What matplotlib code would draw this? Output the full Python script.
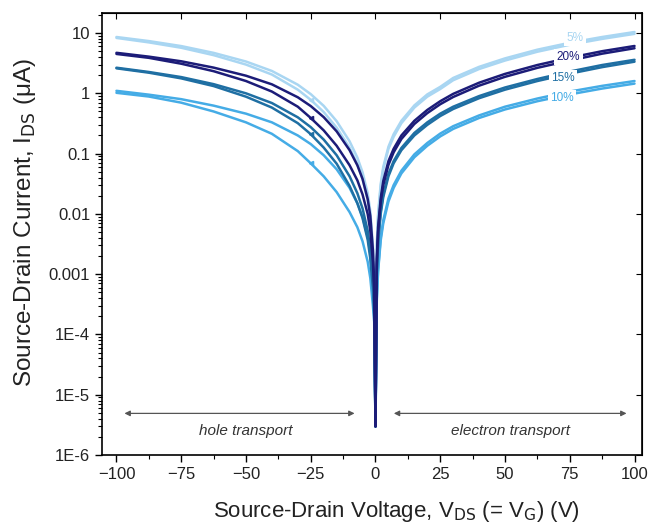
import matplotlib
matplotlib.use("Agg")
import matplotlib.pyplot as plt
from matplotlib.ticker import NullLocator

plt.rcParams['font.family'] = ['Liberation Sans', 'DejaVu Sans']

# sweep voltages (V)
v_left = [-100, -87.5, -75, -62.5, -50, -40, -30, -25, -20, -15, -10, -7, -5, -3, -2, -1, -0.5, 0]
v_right = [0, 0.5, 1, 2, 3, 5, 7, 10, 15, 20, 25, 30, 40, 50, 62.5, 75, 87.5, 100]

# |I_DS| in uA, two sweeps per sample, hole (left) and electron (right) branches
i5_left_a = [8.6, 7.36, 6.08, 4.69, 3.37, 2.35, 1.39, 0.97, 0.62, 0.345, 0.16, 0.086, 0.049, 0.022, 0.011, 0.003, 0.001, 3e-6]
i5_left_b = [8.3, 7.0, 5.7, 4.3, 3.0, 2.05, 1.15, 0.78, 0.49, 0.27, 0.125, 0.067, 0.038, 0.017, 0.0085, 0.0024, 0.0008, 3e-6]
i5_right_a = [3e-6, 0.003, 0.01, 0.031, 0.06, 0.13, 0.21, 0.35, 0.63, 0.96, 1.28, 1.8, 2.75, 3.8, 5.3, 6.9, 8.6, 10.4]
i5_right_b = [3e-6, 0.0028, 0.009, 0.028, 0.055, 0.12, 0.19, 0.32, 0.58, 0.88, 1.18, 1.65, 2.53, 3.5, 4.9, 6.4, 8.0, 9.7]

i20_left_a = [4.7, 4.06, 3.4, 2.67, 1.96, 1.41, 0.86, 0.615, 0.403, 0.234, 0.114, 0.064, 0.038, 0.0175, 0.0092, 0.0025, 0.0007, 3e-6]
i20_left_b = [4.5, 3.88, 3.1, 2.33, 1.6, 1.07, 0.6, 0.39, 0.243, 0.135, 0.064, 0.036, 0.021, 0.0099, 0.0052, 0.0016, 0.0005, 3e-6]
i20_right_a = [3e-6, 0.0018, 0.006, 0.018, 0.035, 0.075, 0.12, 0.2, 0.35, 0.53, 0.74, 0.98, 1.5, 2.1, 2.95, 3.9, 5.0, 6.1]
i20_right_b = [3e-6, 0.0015, 0.005, 0.0155, 0.03, 0.065, 0.105, 0.175, 0.31, 0.47, 0.66, 0.87, 1.34, 1.88, 2.65, 3.5, 4.55, 5.6]

i15_left_a = [2.66, 2.26, 1.86, 1.42, 1.0, 0.69, 0.4, 0.275, 0.171, 0.094, 0.042, 0.022, 0.0123, 0.0052, 0.0025, 0.0008, 0.0003, 3e-6]
i15_left_b = [2.6, 2.2, 1.77, 1.32, 0.88, 0.58, 0.32, 0.21, 0.126, 0.068, 0.029, 0.015, 0.0085, 0.0037, 0.0018, 0.0006, 0.0002, 3e-6]
i15_right_a = [3e-6, 0.0011, 0.0036, 0.011, 0.021, 0.046, 0.075, 0.124, 0.22, 0.33, 0.46, 0.6, 0.9, 1.25, 1.73, 2.3, 2.95, 3.6]
i15_right_b = [3e-6, 0.001, 0.0033, 0.01, 0.019, 0.042, 0.069, 0.114, 0.2, 0.3, 0.42, 0.55, 0.83, 1.15, 1.6, 2.12, 2.72, 3.35]

i10_left_a = [1.1, 0.95, 0.8, 0.625, 0.46, 0.33, 0.2, 0.144, 0.094, 0.055, 0.027, 0.015, 0.0089, 0.0041, 0.0022, 0.0006, 0.00025, 3e-6]
i10_left_b = [1.02, 0.885, 0.7, 0.5, 0.33, 0.213, 0.11, 0.069, 0.042, 0.023, 0.0107, 0.006, 0.0035, 0.0016, 0.00086, 0.0003, 0.00016, 3e-6]
i10_right_a = [3e-6, 0.0004, 0.0012, 0.004, 0.0078, 0.018, 0.03, 0.052, 0.097, 0.15, 0.215, 0.285, 0.43, 0.6, 0.82, 1.07, 1.33, 1.6]
i10_right_b = [3e-6, 0.00036, 0.0011, 0.0036, 0.007, 0.016, 0.027, 0.047, 0.087, 0.135, 0.193, 0.257, 0.39, 0.54, 0.74, 0.96, 1.2, 1.45]

sample_labels = ['5%', '10%', '15%', '20%']
sample_colors = ['#a9d6f2', '#45ace6', '#1f6fa3', '#1c1c78']
label_pos = [(77, 8.3), (72, 0.83), (72.5, 1.79), (74.5, 4.0)]

y_ticks = [1e-6, 1e-5, 1e-4, 1e-3, 1e-2, 1e-1, 1, 10]
y_ticklabels = ['1E-6', '1E-5', '1E-4', '0.001', '0.01', '0.1', '1', '10']
x_ticks = [-100, -75, -50, -25, 0, 25, 50, 75, 100]
x_minor = [-87.5, -62.5, -37.5, -12.5, 12.5, 37.5, 62.5, 87.5]

curves = [
    (i5_left_a, i5_left_b, i5_right_a, i5_right_b),
    (i10_left_a, i10_left_b, i10_right_a, i10_right_b),
    (i15_left_a, i15_left_b, i15_right_a, i15_right_b),
    (i20_left_a, i20_left_b, i20_right_a, i20_right_b),
]

fig = plt.figure(figsize=(6.52, 5.29), dpi=100)
ax = fig.add_axes([0.1564, 0.1399, 0.8283, 0.8355])

for (la, lb, ra, rb), color in zip(curves, sample_colors):
    ax.plot(v_left, la, color=color, lw=1.8, solid_capstyle='round')
    ax.plot(v_left, lb, color=color, lw=1.8, solid_capstyle='round',
            marker='<', ms=3, markevery=[7])
    ax.plot(v_right, ra, color=color, lw=1.8, solid_capstyle='round')
    ax.plot(v_right, rb, color=color, lw=1.8, solid_capstyle='round')

for lab, color, (xv, yv) in zip(sample_labels, sample_colors, label_pos):
    ax.text(xv, yv, lab, color=color, fontsize=8.5, ha='center', va='center',
            bbox=dict(boxstyle='square,pad=0.2', fc='white', ec='none'))

ax.set_yscale('log')
ax.set_ylim(1e-6, 21.5)
ax.set_xlim(-105.6, 102.9)

ax.set_yticks(y_ticks)
ax.set_yticklabels(y_ticklabels)
ax.set_xticks(x_ticks)
ax.set_xticks(x_minor, minor=True)

ax.tick_params(axis='both', which='major', direction='out', length=5, width=1,
               labelsize=12, labelcolor='#222222', top=False, right=False)
ax.tick_params(axis='both', which='minor', direction='out', length=3, width=0.8)
ax.tick_params(axis='y', which='minor', labelleft=False)

# inward ticks on top and right
sec_x = ax.secondary_xaxis('top')
sec_x.set_xticks(x_ticks)
sec_x.tick_params(direction='in', length=4, labeltop=False)
sec_y = ax.secondary_yaxis('right')
sec_y.set_yticks(y_ticks)
sec_y.tick_params(direction='in', length=4, labelright=False)
sec_y.yaxis.set_minor_locator(NullLocator())

for sp in ax.spines.values():
    sp.set_linewidth(1.2)

# transport regions
arrow_kw = dict(arrowstyle='<|-|>', color='#555555', lw=0.9, mutation_scale=8)
ax.annotate('', xy=(-98, 4.9e-6), xytext=(-7, 4.9e-6), arrowprops=arrow_kw)
ax.annotate('', xy=(6, 4.9e-6), xytext=(98, 4.9e-6), arrowprops=arrow_kw)
ax.text(-50, 2.5e-6, 'hole transport', style='italic', fontsize=11,
        color='#333333', ha='center', va='center')
ax.text(52, 2.5e-6, 'electron transport', style='italic', fontsize=11,
        color='#333333', ha='center', va='center')

ax.set_xlabel('Source-Drain Voltage, V$_{\\mathrm{DS}}$ (= V$_{\\mathrm{G}}$) (V)',
              fontsize=16, color='#222222')
ax.set_ylabel('Source-Drain Current, I$_{\\mathrm{DS}}$ (\u03bcA)',
              fontsize=17.5, color='#222222')
ax.xaxis.set_label_coords(0.546, -0.1)
ax.yaxis.set_label_coords(-0.118, 0.525)

fig.savefig('out.png', dpi=100)
